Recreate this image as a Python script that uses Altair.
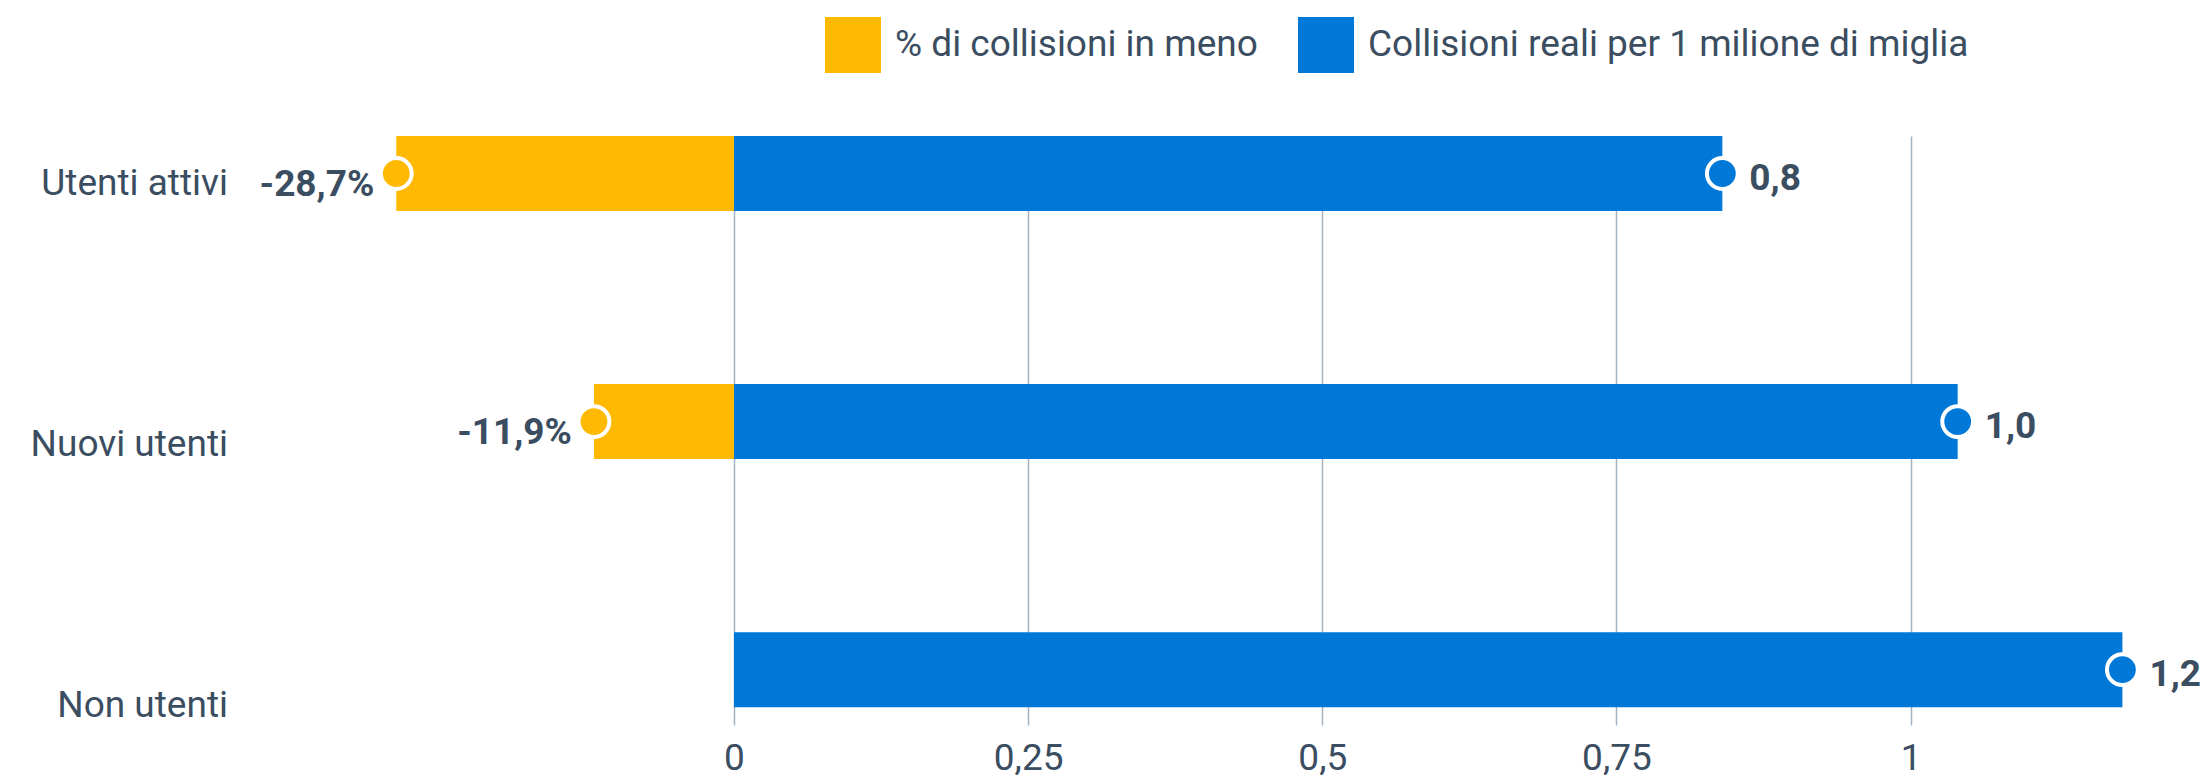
import altair as alt
import pandas as pd

categories = ["Utenti attivi", "Nuovi utenti", "Non utenti"]
series_names = ["% di collisioni in meno", "Collisioni reali per 1 milione di miglia"]
reduction = [-0.287, -0.119, None]
collisions = [0.84, 1.04, 1.18]
tick_values = [0, 0.25, 0.5, 0.75, 1]

YELLOW = "#FFB900"
BLUE = "#0078D7"
TEXT = "#3b4d61"
GRID = "#a3b3c3"

rows = []
for c, r, v in zip(categories, reduction, collisions):
    if r is not None:
        rows.append({"category": c, "series": series_names[0], "value": r})
    rows.append({"category": c, "series": series_names[1], "value": v})
df = pd.DataFrame(rows)
labels_df = pd.DataFrame({"category": categories})

y_bar = alt.Y(
    "category:N",
    sort=categories,
    axis=None,
    scale=alt.Scale(paddingInner=0.6976, paddingOuter=0.036, align=0),
)
x_enc = alt.X(
    "value:Q",
    scale=alt.Scale(domain=[-0.6, 1.24], nice=False, zero=False),
    axis=alt.Axis(
        values=tick_values,
        format=".2~f",
        title=None,
        grid=True,
        gridColor=GRID,
        gridWidth=1.5,
        domain=False,
        ticks=False,
        tickSize=0,
        labelFontSize=37,
        labelColor=TEXT,
        labelPadding=15,
        labelFlush=False,
    ),
)

bars = alt.Chart(df).mark_bar().encode(
    x=x_enc,
    y=y_bar,
    color=alt.Color(
        "series:N",
        scale=alt.Scale(domain=series_names, range=[YELLOW, BLUE]),
        legend=alt.Legend(
            title=None,
            orient="none",
            legendX=797,
            legendY=-119,
            direction="horizontal",
            symbolType="square",
            symbolSize=3136,
            symbolStrokeWidth=0,
            symbolOpacity=1,
            labelFontSize=37,
            labelLimit=1000,
            labelOffset=14,
            columnPadding=40,
            labelColor=TEXT,
        ),
    ),
)

circles = alt.Chart(df).mark_point(
    shape="circle", filled=True, size=950, stroke="white", strokeWidth=4,
    opacity=1, fillOpacity=1, strokeOpacity=1,
).encode(
    x="value:Q",
    y=y_bar,
    fill=alt.Fill("series:N", scale=alt.Scale(domain=series_names, range=[YELLOW, BLUE]), legend=None),
)

neg_labels = alt.Chart(df).transform_filter(alt.datum.value < 0).mark_text(
    align="right", baseline="middle", dx=-22, dy=11, fontSize=37, fontWeight="bold", color=TEXT
).encode(
    x="value:Q",
    y=y_bar,
    text=alt.Text("value:Q", format=".1%"),
)

pos_labels = alt.Chart(df).transform_filter(alt.datum.value > 0).mark_text(
    align="left", baseline="middle", dx=27, dy=5, fontSize=37, fontWeight="bold", color=TEXT
).encode(
    x="value:Q",
    y=y_bar,
    text=alt.Text("value:Q", format=".1f"),
)

cat_labels = alt.Chart(labels_df).mark_text(
    align="right", baseline="middle", fontSize=37, color=TEXT
).encode(
    x=alt.value(200),
    y=alt.Y("category:N", sort=categories, axis=None,
            scale=alt.Scale(type="point", padding=0.129, align=0.712)),
    text="category:N",
)

inner = alt.layer(bars, circles, neg_labels, pos_labels)

chart = (
    alt.layer(inner, cat_labels)
    .resolve_scale(y="independent")
    .properties(
        width=2165,
        height=589,
        padding={"left": 20, "top": 128, "right": 7, "bottom": 60},
        autosize=alt.AutoSizeParams(type="none"),
    )
    .configure(
        font="Roboto",
        locale={"number": {"decimal": ",", "thousands": ".", "grouping": [3],
                           "currency": ["€", ""], "minus": "-"}},
    )
    .configure_view(strokeWidth=0)
)

chart.save("out.html", embed_options={"renderer": "svg", "actions": False})
